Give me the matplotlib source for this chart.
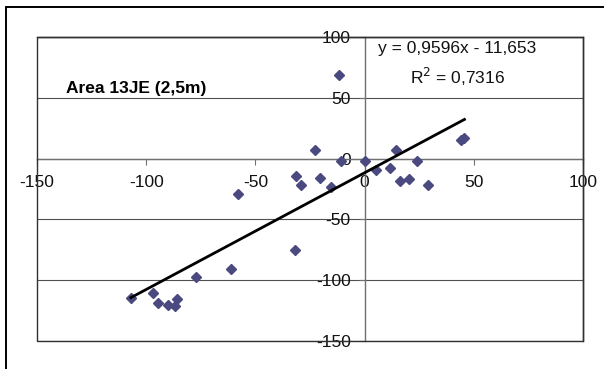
import matplotlib
matplotlib.use("Agg")
import matplotlib.pyplot as plt
from matplotlib.patches import Rectangle
import numpy as np

plt.rcParams['font.family'] = ['Liberation Sans', 'DejaVu Sans']

# Data
x_vals = [-107.0, -97.1, -94.4, -89.9, -86.8, -86.1, -77.0, -61.1, -58.0, -32.0,
          -31.2, -29.3, -22.6, -20.5, -15.5, -11.8, -11.0, 0.0, 5.3, 11.8,
          14.5, 16.0, 20.4, 24.2, 28.9, 44.2, 45.7]
y_vals = [-115.0, -110.6, -119.1, -120.2, -121.5, -115.8, -97.7, -90.8, -29.5, -74.8,
          -14.2, -21.5, 7.4, -15.8, -23.5, 68.7, -2.1, -2.0, -9.5, -7.9,
          6.8, -18.4, -17.0, -2.1, -21.7, 15.7, 17.3]

slope = 0.9596
intercept = -11.653
eq_label = "y = 0,9596x - 11,653"
r2_label = "R$^2$ = 0,7316"
title_label = "Area 13JE (2,5m)"

x_ticks = [-150, -100, -50, 0, 50, 100]
y_ticks = [-150, -100, -50, 0, 50, 100]

fig = plt.figure(figsize=(6.04, 3.69), dpi=100)
ax = fig.add_axes([37 / 604, 28 / 369, 546 / 604, 304 / 369])
ax.set_xlim(-150, 100)
ax.set_ylim(-150, 100)

# gridlines
for yt in y_ticks:
    ax.axhline(yt, color='#505050', lw=0.8, zorder=1)

# zero-crossing axes
ax.spines['left'].set_position(('data', 0))
ax.spines['bottom'].set_position(('data', 0))
for s in ['left', 'bottom']:
    ax.spines[s].set_color('#707070')
    ax.spines[s].set_linewidth(1.0)
for s in ['top', 'right']:
    ax.spines[s].set_color('#202020')
    ax.spines[s].set_linewidth(1.0)
# frame (left / bottom edges of plot area)
ax.add_patch(Rectangle((0, 0), 1, 1, transform=ax.transAxes, fill=False,
                       edgecolor='#303030', lw=1.0, zorder=5, clip_on=False))

ax.set_xticks(x_ticks)
ax.set_yticks(y_ticks)
ax.set_xticklabels([str(v) for v in x_ticks])
ax.set_yticklabels([str(v) for v in y_ticks])
ax.tick_params(axis='x', direction='out', length=4, width=0.8, color='#707070',
               labelsize=12.5, pad=8, labelcolor='#111111')
ax.tick_params(axis='y', direction='out', length=4, width=0.8, color='#707070',
               labelsize=12.5, pad=6, labelcolor='#111111')

# data points
ax.plot(x_vals, y_vals, linestyle='none', marker='D', markersize=4.8,
        color='#4a4a80', zorder=3, clip_on=False)

# trend line
xs = np.array([min(x_vals), max(x_vals)])
ax.plot(xs, slope * xs + intercept, color='black', lw=2.0, zorder=4)

ax.text(-136.5, 58, title_label, fontsize=12.5, fontweight='bold', ha='left',
        va='center')
ax.text(42.5, 90.5, eq_label, fontsize=12.5, ha='center', va='center',
        color='#111111')
ax.text(42.5, 67, r2_label, fontsize=12.5, ha='center', va='center',
        color='#111111')

# outer chart frame (partly cropped)
fig.add_artist(Rectangle((6 / 604, -0.1), 1.2, (369 - 7) / 369 + 0.1,
                         transform=fig.transFigure, fill=False,
                         edgecolor='black', lw=1.4))

fig.savefig('out.png', dpi=100)
